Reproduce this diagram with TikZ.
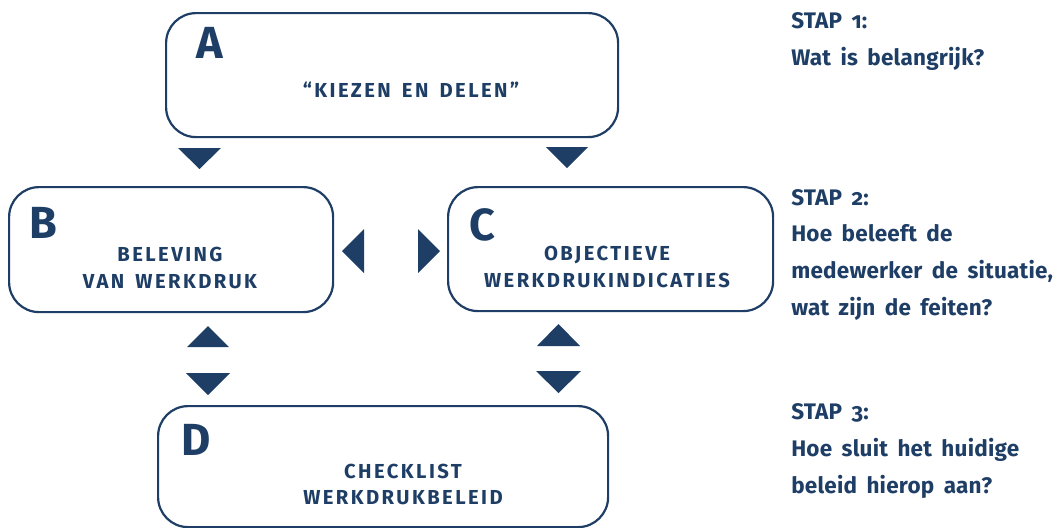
\documentclass[tikz,border=0pt]{standalone}
\usepackage{fontspec}
\setmainfont{Fira Sans}
\newfontfamily\spacedfont{Fira Sans}[LetterSpace=12]
\newfontfamily\stepfont{Fira Sans}[Numbers=OldStyle, LetterSpace=1,
  BoldFeatures={Numbers=OldStyle}]
\newcommand\stepspacing{\spaceskip=0.42em plus 0.1em\relax}
\newcommand\boxspacing{\spaceskip=0.55em plus 0.1em\relax}

\definecolor{navy}{RGB}{30,62,102}
\tikzset{
  box/.style={draw=navy, line width=0.55mm, rounded corners=7.5mm,
    anchor=north west, inner sep=0pt},
  letter/.style={navy, font=\bfseries\fontsize{32}{32}\selectfont,
    anchor=base west, inner sep=0pt},
  boxtext/.style={navy,
    font={\spacedfont\bfseries\fontsize{14.4}{18.5}\selectfont\boxspacing},
    align=center, anchor=base, inner sep=0pt},
  steptext/.style={navy,
    font={\stepfont\bfseries\fontsize{16}{26}\selectfont\stepspacing},
    align=left, anchor=base west, inner sep=0pt},
  arrowhead/.style={fill=navy},
}

\begin{document}
\begin{tikzpicture}[x=0.25mm, y=-0.25mm]
  \useasboundingbox (0, 0) rectangle (1058, 527);
  \clip (0, 0) rectangle (1058, 527);

  % the four boxes
  \node[box, minimum width=113mm, minimum height=31mm] (A) at (165, 12) {};
  \node[box, minimum width=81mm, minimum height=31.25mm] (B) at (8, 186) {};
  \node[box, minimum width=81.25mm, minimum height=31mm] (C) at (447, 186) {};
  \node[box, minimum width=112.5mm, minimum height=30.25mm] (D) at (157, 405) {};

  \node[letter] (Aletter) at (196, 58) {A};
  \node[letter] (Bletter) at (29, 238) {B};
  \node[letter] (Cletter) at (469, 240) {C};
  \node[letter] (Dletter) at (181, 455) {D};

  \node[boxtext] (Atext) at (411, 97) {“KIEZEN EN DELEN”};
  \node[boxtext] (Btext) at (170, 288) {BELEVING\\VAN WERKDRUK};
  \node[boxtext] (Ctext) at (607, 287) {OBJECTIEVE\\WERKDRUKINDICATIES};
  \node[boxtext] (Dtext) at (403, 504) {CHECKLIST\\WERKDRUKBELEID};

  % arrowheads
  \fill[arrowhead] (178, 148) -- (221, 148) -- (199.5, 169) -- cycle;
  \fill[arrowhead] (546, 147) -- (588, 147) -- (567, 168) -- cycle;
  \fill[arrowhead] (364, 229) -- (364, 273) -- (342, 251) -- cycle;
  \fill[arrowhead] (418, 229) -- (418, 273) -- (440, 251) -- cycle;
  \fill[arrowhead] (187, 347) -- (229, 347) -- (208, 326) -- cycle;
  \fill[arrowhead] (186, 373) -- (230, 373) -- (208, 395) -- cycle;
  \fill[arrowhead] (537, 346) -- (580, 346) -- (558.5, 324) -- cycle;
  \fill[arrowhead] (536, 371) -- (581, 371) -- (558.5, 393) -- cycle;

  % steps
  \node[steptext] (step1) at (791, 65) {STAP 1:\\Wat is belangrijk?};
  \node[steptext] (step2) at (791, 315)
    {STAP 2:\\Hoe beleeft de\\medewerker de situatie,\\wat zijn de feiten?};
  \node[steptext] (step3) at (791, 493)
    {STAP 3:\\Hoe sluit het huidige\\beleid hierop aan?};
\end{tikzpicture}
\end{document}
